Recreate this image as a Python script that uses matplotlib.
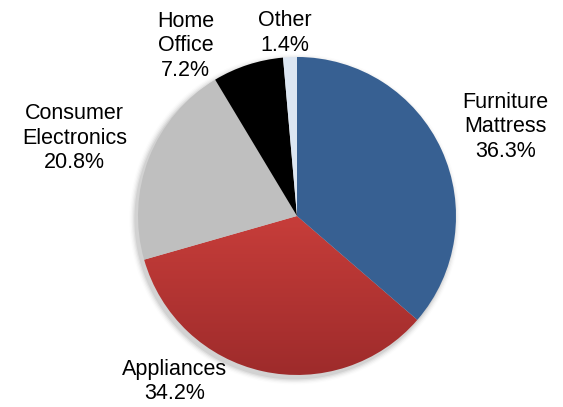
import matplotlib
matplotlib.use("Agg")
import matplotlib.pyplot as plt
import numpy as np
from matplotlib.colors import LinearSegmentedColormap

labels = ["Furniture\nMattress", "Appliances", "Consumer\nElectronics", "Home\nOffice", "Other"]
shares = [36.3, 34.2, 20.8, 7.2, 1.4]
colors = ["#376092", "#C23B37", "#BFBFBF", "#000000", "#DCE6F2"]

# label centres in data units (pie radius = 1)
label_xy = [(1.31, 0.56), (-0.77, -1.04), (-1.40, 0.49), (-0.70, 1.07), (-0.075, 1.15)]

plt.rcParams['font.family'] = ['Liberation Sans', 'DejaVu Sans']

fig = plt.figure(figsize=(5.63, 4.07), dpi=100)
ax = fig.add_axes([0, 0, 1, 1])

# soft shadow behind the pie, mostly lower left
for i, a in enumerate(np.linspace(0.06, 0.012, 5)):
    sh = plt.Circle((-0.015, -0.02), 1.0 + 0.008 * (i + 1), color="black", alpha=a, lw=0, zorder=0)
    ax.add_patch(sh)

wedges, _ = ax.pie(shares, colors=colors, startangle=90, counterclock=False,
                   radius=1.0, center=(0, 0), wedgeprops=dict(linewidth=0))

# vertical gradient on the red slice
red = LinearSegmentedColormap.from_list("red", ["#CF413D", "#9E2B2B"])
grad = np.linspace(0, 1, 256).reshape(-1, 1)
im = ax.imshow(grad, cmap=red, extent=(-1, 1, -1, 0.2), aspect="auto", zorder=2)
im.set_clip_path(wedges[1])
wedges[1].set_facecolor("none")
for w in wedges:
    w.set_zorder(3)

for lab, val, (x, y) in zip(labels, shares, label_xy):
    ax.text(x, y, f"{lab}\n{val:.1f}%", ha="center", va="center", fontsize=15.5,
            linespacing=1.22, color="black")

ax.set_xlim(-1.868, 1.673)
ax.set_ylim(-1.201, 1.358)
ax.set_aspect("equal")
ax.axis("off")

fig.savefig("out.png", dpi=100)
